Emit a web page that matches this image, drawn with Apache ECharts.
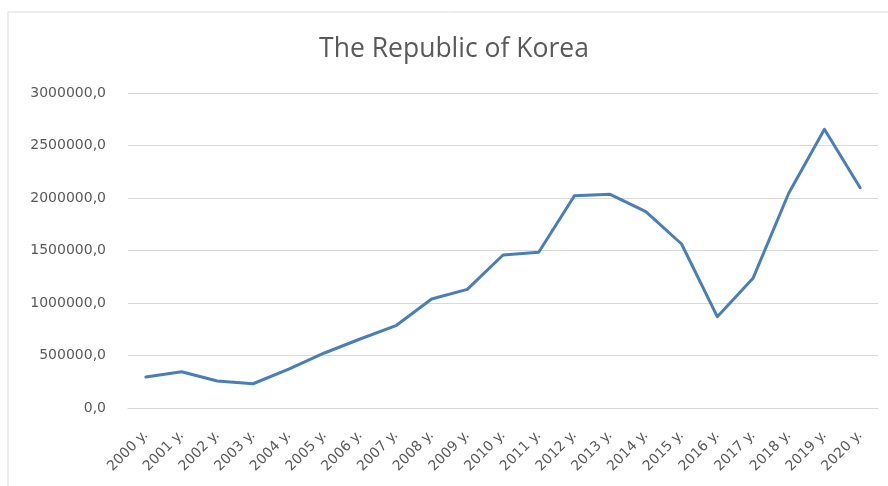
<!DOCTYPE html>
<html>
<head>
<meta charset="utf-8">
<script src="https://cdn.jsdelivr.net/npm/echarts@6/dist/echarts.min.js"></script>
<style>html,body{margin:0;padding:0;background:#fff;}#c{width:888px;height:486px;}</style>
</head>
<body>
<div id="c"></div>
<script>
const titleText = "The Republic of Korea";
const categories = ["2000 y.","2001 y.","2002 y.","2003 y.","2004 y.","2005 y.","2006 y.","2007 y.","2008 y.","2009 y.","2010 y.","2011 y.","2012 y.","2013 y.","2014 y.","2015 y.","2016 y.","2017 y.","2018 y.","2019 y.","2020 y."];
const values = [295000,345000,257000,231000,371000,524000,657000,784000,1038000,1130000,1457000,1483000,2022000,2035000,1870000,1562000,870000,1235000,2045000,2654000,2098000];
const yMin = 0, yMax = 3000000, yStep = 500000;

const chart = echarts.init(document.getElementById('c'), null, {renderer:'canvas'});
chart.setOption({
  animation:false,
  backgroundColor:'#fff',
  graphic:[{type:'rect',shape:{x:8,y:12,width:900,height:500},style:{fill:'none',stroke:'#d9d9d9',lineWidth:1},silent:true}],
  title:{text:titleText,left:449,textAlign:'center',top:31,textStyle:{fontFamily:'Open Sans',fontWeight:'normal',fontSize:26.5,color:'#595959'}},
  grid:{left:128,right:10,top:93,bottom:78,containLabel:false},
  xAxis:{type:'category',data:categories,boundaryGap:true,
    axisLine:{lineStyle:{color:'#d9d9d9'}},axisTick:{show:false},
    axisLabel:{rotate:45,interval:0,color:'#595959',fontFamily:'DejaVu Sans',fontSize:14,margin:25}},
  yAxis:{type:'value',min:yMin,max:yMax,interval:yStep,
    axisLine:{show:false},axisTick:{show:false},
    splitLine:{lineStyle:{color:'#d9d9d9',width:1}},
    axisLabel:{color:'#595959',fontFamily:'DejaVu Sans',fontSize:14,margin:22,
      formatter:v=>v.toFixed(1).replace('.',',')}},
  series:[{type:'line',data:values,showSymbol:false,symbol:'none',
    lineStyle:{color:'#4a7ebb',width:3,join:'round',cap:'round'}}]
});
</script>
</body>
</html>
